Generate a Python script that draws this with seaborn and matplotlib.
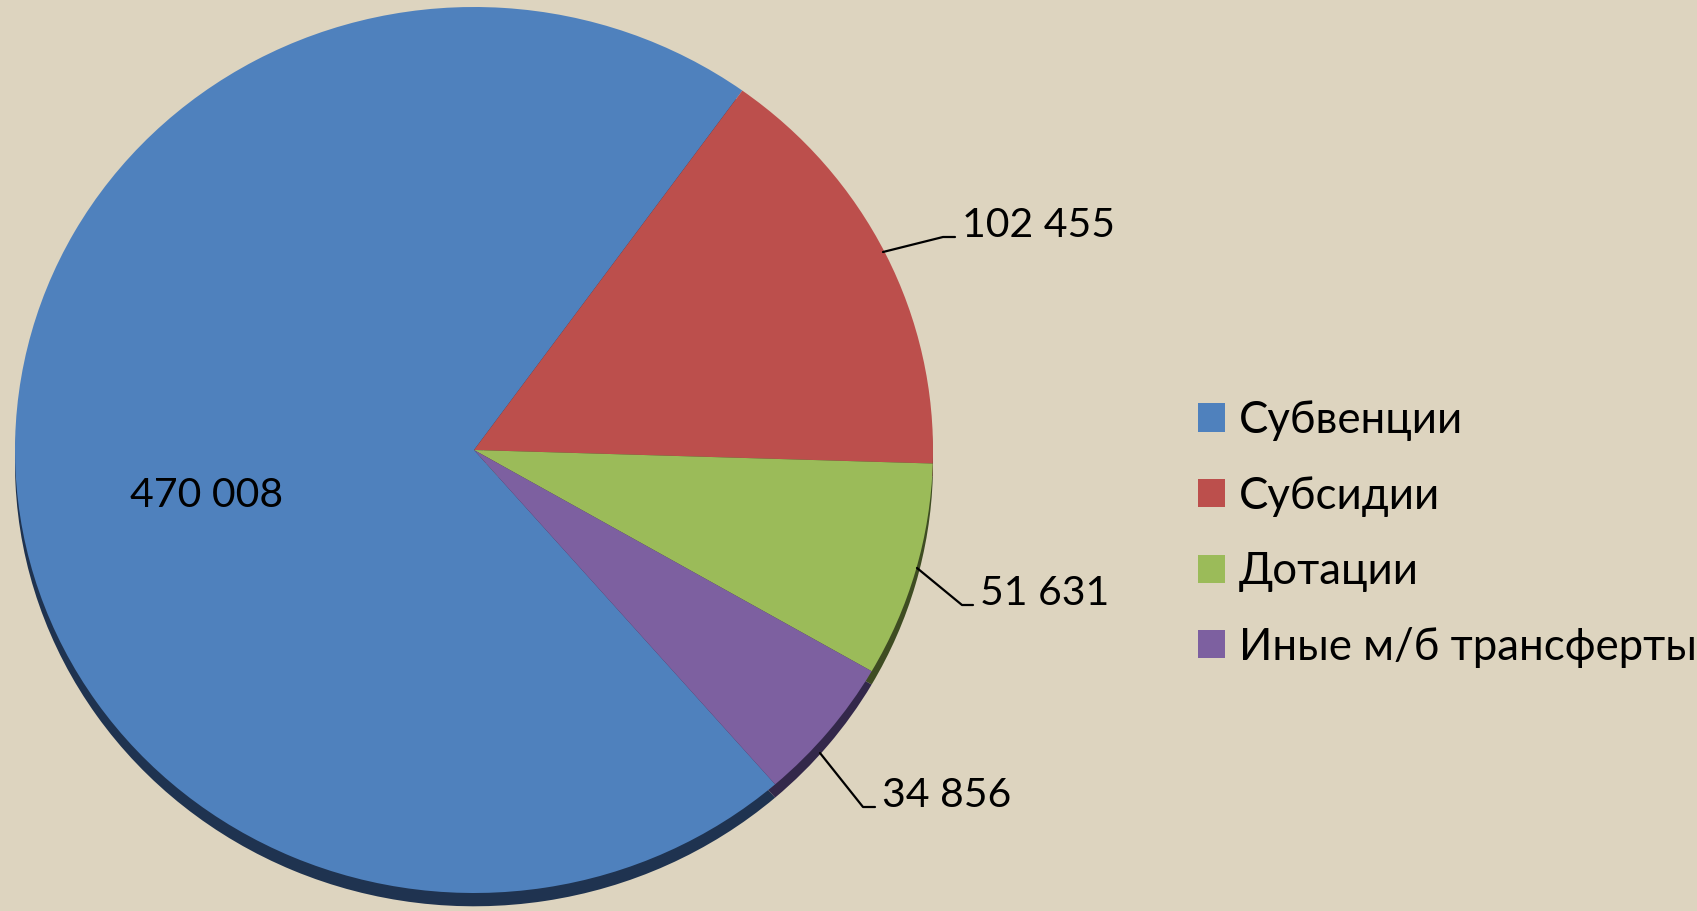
import matplotlib
matplotlib.use("Agg")
import matplotlib.pyplot as plt
import seaborn as sns

categories = ["Субвенции", "Субсидии", "Дотации", "Иные м/б трансферты"]
values = [470008, 102455, 51631, 34856]
colors = ["#4f81bd", "#bc4f4c", "#9bbb59", "#7d60a0"]
shadow_colors = ["#1f3350", "#4e2322", "#3e4c22", "#33284a"]

W, H = 1697, 911
BG = "#ddd4bf"

sns.set_theme(style="white")
plt.rcParams["font.family"] = ["Lato", "DejaVu Sans"]

fig = plt.figure(figsize=(W / 100, H / 100), dpi=100, facecolor=BG)

# pie axes: slightly flattened ellipse, like the Excel 3D look
cx, cy, rx, ry = 474, 450, 459, 443
pad = 1.1
ax = fig.add_axes([(cx - rx * pad) / W, (H - cy - ry * pad) / H,
                   2 * rx * pad / W, 2 * ry * pad / H])
ax.set_facecolor("none")

shadow, _ = ax.pie(values, colors=shadow_colors, startangle=311, counterclock=False,
                   radius=1, center=(0, -0.03), frame=True)
wedges, _ = ax.pie(values, colors=colors, startangle=311, counterclock=False,
                   radius=1, center=(0, 0), frame=True)
for w in shadow + wedges:
    w.set_linewidth(0)
ax.set_aspect("auto")
ax.set_xlim(-pad, pad)
ax.set_ylim(-pad, pad)
ax.axis("off")

# overlay in pixel coordinates for labels and leader lines
ov = fig.add_axes([0, 0, 1, 1])
ov.set_xlim(0, W)
ov.set_ylim(H, 0)
ov.axis("off")
ov.set_facecolor("none")

def fmt(v):
    return f"{v:,}".replace(",", " ")

label_pos = [(130, 507), (962, 237), (980, 605), (882, 807)]
leaders = [None,
           [(883, 252), (943, 237), (955, 237)],
           [(917, 568), (962, 605), (973, 605)],
           [(820, 753), (863, 807), (875, 807)]]

for v, (x, y), ld in zip(values, label_pos, leaders):
    ov.text(x, y, fmt(v), fontsize=29.5, color="black", ha="left", va="baseline")
    if ld:
        xs, ys = zip(*ld)
        ov.plot(xs, ys, color="black", lw=1.6)

leg = fig.legend(wedges, categories, loc="upper left",
                 bbox_to_anchor=(1198 / W, 1 - 400 / H), frameon=False,
                 fontsize=31.5, handlelength=0.62, handleheight=0.62,
                 handletextpad=0.32, labelspacing=0.79, borderaxespad=0,
                 borderpad=0)
for t in leg.get_texts():
    t.set_color("black")

fig.savefig("out.png", dpi=100, facecolor=BG)
